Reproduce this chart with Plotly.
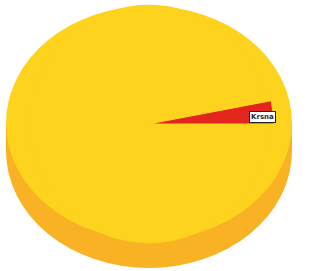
import plotly.graph_objects as go

labels = ["Krsna", "Other"]
values = [3, 97]
colors = ["#E3261C", "#FDD31D"]
pulls = [0.04, 0]

W, H = 325, 271

def px(x):
    return x / W

def py(y):
    return 1 - y / H

fig = go.Figure()

fig.add_trace(go.Pie(
    labels=labels,
    values=values,
    marker=dict(colors=colors, line=dict(width=0)),
    pull=pulls,
    sort=False,
    direction="clockwise",
    rotation=90 - 360 * values[0] / sum(values),
    textinfo="none",
    hoverinfo="label+percent",
    showlegend=False,
    domain=dict(x=[px(149 - 124), px(149 + 124)], y=[py(248), py(0)]),
))

shapes = [
    # 3D side of the disc
    dict(type="circle", xref="paper", yref="paper", layer="below",
         x0=px(6), x1=px(292), y0=py(268), y1=py(34),
         fillcolor="#F8B224", line=dict(width=0)),
    dict(type="rect", xref="paper", yref="paper", layer="below",
         x0=px(6), x1=px(292), y0=py(151), y1=py(123),
         fillcolor="#F8B224", line=dict(width=0)),
    # top face
    dict(type="circle", xref="paper", yref="paper", layer="below",
         x0=px(6), x1=px(292), y0=py(240), y1=py(6),
         fillcolor="#FDD31D", line=dict(width=0)),
]

fig.update_layout(
    width=W, height=H,
    margin=dict(l=0, r=0, t=0, b=0),
    paper_bgcolor="white",
    plot_bgcolor="white",
    shapes=shapes,
    annotations=[dict(
        text="<b>Krsna</b>", xref="paper", yref="paper",
        x=px(276), y=py(117), showarrow=False,
        font=dict(family="DejaVu Sans", size=7, color="#1a2a3a"),
        bgcolor="white", bordercolor="#222222", borderwidth=1, borderpad=1,
    )],
)

fig.write_html("out.html", config={"displayModeBar": False},
               post_script="document.body.style.margin='0';")
